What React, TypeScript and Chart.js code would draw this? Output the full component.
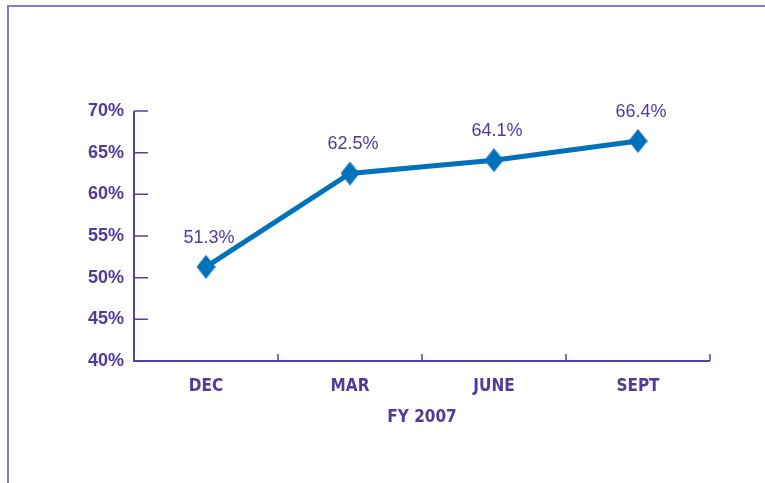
import React, { useEffect, useRef } from "react";
import { Chart, registerables } from "chart.js";

Chart.register(...registerables);

const categories = ["DEC", "MAR", "JUNE", "SEPT"];
const values = [51.3, 62.5, 64.1, 66.4];
const valueLabels = ["51.3%", "62.5%", "64.1%", "66.4%"];
const yTickMin = 40;
const yTickMax = 70;
const yTickStep = 5;
const xTitle = "FY 2007";

const TEXT = "#523a98";
const AXIS = "#5b3f9f";
const LINE = "#0072bc";
const FRAME = "#9078c8";

function makeDiamond(): HTMLCanvasElement {
  const c = document.createElement("canvas");
  const w = 19, h = 24;
  c.width = w;
  c.height = h;
  const ctx = c.getContext("2d")!;
  ctx.fillStyle = LINE;
  ctx.beginPath();
  ctx.moveTo(w / 2, 0);
  ctx.lineTo(w, h / 2);
  ctx.lineTo(w / 2, h);
  ctx.lineTo(0, h / 2);
  ctx.closePath();
  ctx.fill();
  return c;
}

const axesPlugin = {
  id: "customAxes",
  afterDraw(chart: any) {
    const { ctx, chartArea } = chart;
    const x = chart.scales.x;
    const y = chart.scales.y;
    ctx.save();
    ctx.strokeStyle = AXIS;
    ctx.lineWidth = 2;
    ctx.beginPath();
    ctx.moveTo(chartArea.left, chartArea.top);
    ctx.lineTo(chartArea.left, chartArea.bottom);
    ctx.lineTo(chartArea.right, chartArea.bottom);
    ctx.stroke();
    ctx.lineWidth = 1.5;
    ctx.beginPath();
    y.ticks.forEach((t: any) => {
      const py = y.getPixelForValue(t.value);
      ctx.moveTo(chartArea.left, py);
      ctx.lineTo(chartArea.left + 14, py);
    });
    for (let i = 0; i < categories.length; i++) {
      const px =
        i < categories.length - 1
          ? (x.getPixelForTick(i) + x.getPixelForTick(i + 1)) / 2
          : chartArea.right;
      ctx.moveTo(px, chartArea.bottom);
      ctx.lineTo(px, chartArea.bottom - 7);
    }
    ctx.stroke();
    ctx.restore();
  },
};

const labelPlugin = {
  id: "valueLabels",
  afterDatasetsDraw(chart: any) {
    const { ctx } = chart;
    const meta = chart.getDatasetMeta(0);
    ctx.save();
    ctx.fillStyle = TEXT;
    ctx.font = "18px 'Liberation Sans', Arial, sans-serif";
    ctx.textAlign = "center";
    ctx.textBaseline = "middle";
    meta.data.forEach((pt: any, i: number) => {
      ctx.fillText(valueLabels[i], pt.x + 3, pt.y - 29);
    });
    ctx.restore();
  },
};

const NARROW = "'Liberation Sans Narrow', 'Arial Narrow', 'DejaVu Sans Condensed', sans-serif";

export default function App() {
  const ref = useRef<HTMLCanvasElement>(null);
  useEffect(() => {
    const diamond = makeDiamond();
    const chart = new Chart(ref.current!, {
      type: "line",
      data: {
        labels: categories,
        datasets: [
          {
            data: values,
            borderColor: LINE,
            backgroundColor: LINE,
            borderWidth: 5,
            pointStyle: diamond as any,
            pointRadius: 10,
            tension: 0,
          },
        ],
      },
      options: {
        animation: false,
        responsive: false,
        maintainAspectRatio: false,
        layout: { padding: { top: 111, right: 55, left: 0, bottom: 0 } },
        plugins: { legend: { display: false }, tooltip: { enabled: false } },
        scales: {
          x: {
            offset: true,
            grid: { display: false, drawTicks: false },
            border: { display: false },
            ticks: {
              color: TEXT,
              padding: 15,
              font: { family: NARROW, size: 17, weight: "bold" },
            },
            title: {
              display: true,
              text: xTitle,
              color: TEXT,
              padding: { top: 0, bottom: 55 },
              font: { family: NARROW, size: 17, weight: "bold" },
            },
            afterFit: (s: any) => {
              s.height = 122;
            },
          },
          y: {
            min: yTickMin,
            max: yTickMax,
            grid: { display: false, drawTicks: false },
            border: { display: false },
            ticks: {
              stepSize: yTickStep,
              color: TEXT,
              padding: 10,
              callback: (v: any) => v + "%",
              font: { family: "'Liberation Sans', Arial, sans-serif", size: 18, weight: "bold" },
            },
            afterFit: (s: any) => {
              s.width = 134;
            },
          },
        },
      },
      plugins: [axesPlugin, labelPlugin],
    });
    return () => chart.destroy();
  }, []);

  return (
    <div style={{ position: "fixed", left: 0, top: 0, width: 765, height: 483, background: "#fff" }}>
      <div
        style={{
          position: "absolute",
          left: 7,
          top: 5,
          right: 0,
          bottom: 0,
          borderLeft: `2px solid ${FRAME}`,
          borderTop: `2px solid ${FRAME}`,
        }}
      />
      <canvas ref={ref} width={765} height={483} style={{ position: "absolute", left: 0, top: 0 }} />
    </div>
  );
}
